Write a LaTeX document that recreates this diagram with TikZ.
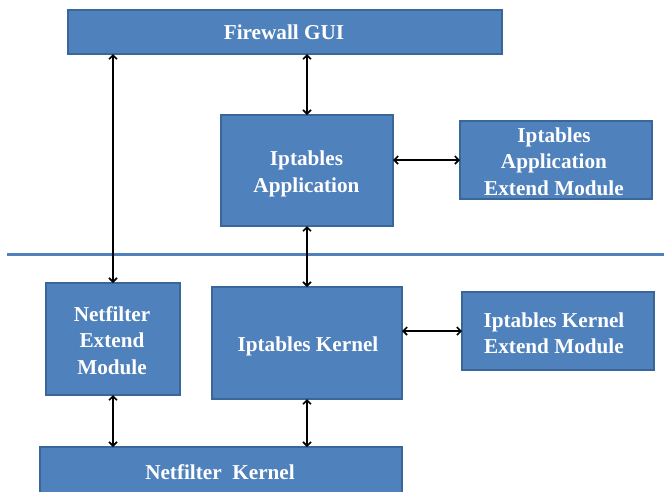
\documentclass[tikz,border=0pt]{standalone}
\usepackage{fontspec}
\setmainfont{Liberation Serif}
\usetikzlibrary{arrows.meta}
\definecolor{boxfill}{HTML}{4F81BD}
\definecolor{boxedge}{HTML}{3A679A}
\tikzset{
  block/.style={draw=boxedge, line width=1.2pt, fill=boxfill,
    inner sep=0pt, outer sep=0pt},
  caption/.style={text=white, inner sep=0pt, align=center,
    font=\bfseries\fontsize{21.2}{26.5}\selectfont},
  link/.style={line width=1.6pt, {Straight Barb[length=4pt,width=8pt]}-{Straight Barb[length=4pt,width=8pt]}},
}
\begin{document}
\begin{tikzpicture}[x=1pt,y=-1pt]
  \useasboundingbox (0,0) rectangle (664,491);
  \clip (0,0) rectangle (664,491);
  % user-space layer
  \node[block, minimum width=434pt, minimum height=44pt] (gui) at (285,32) {};
  \node[block, minimum width=172pt, minimum height=111pt] (ipa) at (307,170.5) {};
  \node[block, minimum width=192pt, minimum height=78pt] (iae) at (556,160) {};
  % user / kernel boundary
  \draw[boxfill, line width=3pt] (7,254) -- (664,254);
  % kernel layer
  \node[block, minimum width=134pt, minimum height=112pt] (nfe) at (113,339) {};
  \node[block, minimum width=190pt, minimum height=112pt] (ipk) at (307,343) {};
  \node[block, minimum width=192pt, minimum height=78pt] (ike) at (558,331) {};
  \node[block, minimum width=362pt, minimum height=48pt] (nk) at (221,471) {};
  % box captions
  \node[caption] (gui-t) at (284,32) {Firewall GUI};
  \node[caption] (ipa-t) at (306.5,174) {Iptables\\Application};
  \node[caption] (iae-t) at (554,161.5) {Iptables\\Application\\Extend Module};
  \node[caption] (nfe-t) at (112,340.5) {Netfilter\\Extend\\Module};
  \node[caption] (ipk-t) at (308,346.5) {Iptables Kernel};
  \node[caption] (ike-t) at (554,333.5) {Iptables Kernel\\Extend Module};
  \node[caption] (nk-t) at (220,472) {Netfilter\ \ Kernel};
  % connectors
  \draw[link] (nfe.north |- gui.south) -- (nfe.north);
  \draw[link] (ipa.north |- gui.south) -- (ipa.north);
  \draw[link] (ipa.east |- iae.west) -- (iae.west);
  \draw[link] (ipa.south) -- (ipa.south |- ipk.north);
  \draw[link] (ipk.east |- ike.west) -- (ike.west);
  \draw[link] (nfe.south) -- (nfe.south |- nk.north);
  \draw[link] (ipk.south) -- (ipk.south |- nk.north);
\end{tikzpicture}
\end{document}
